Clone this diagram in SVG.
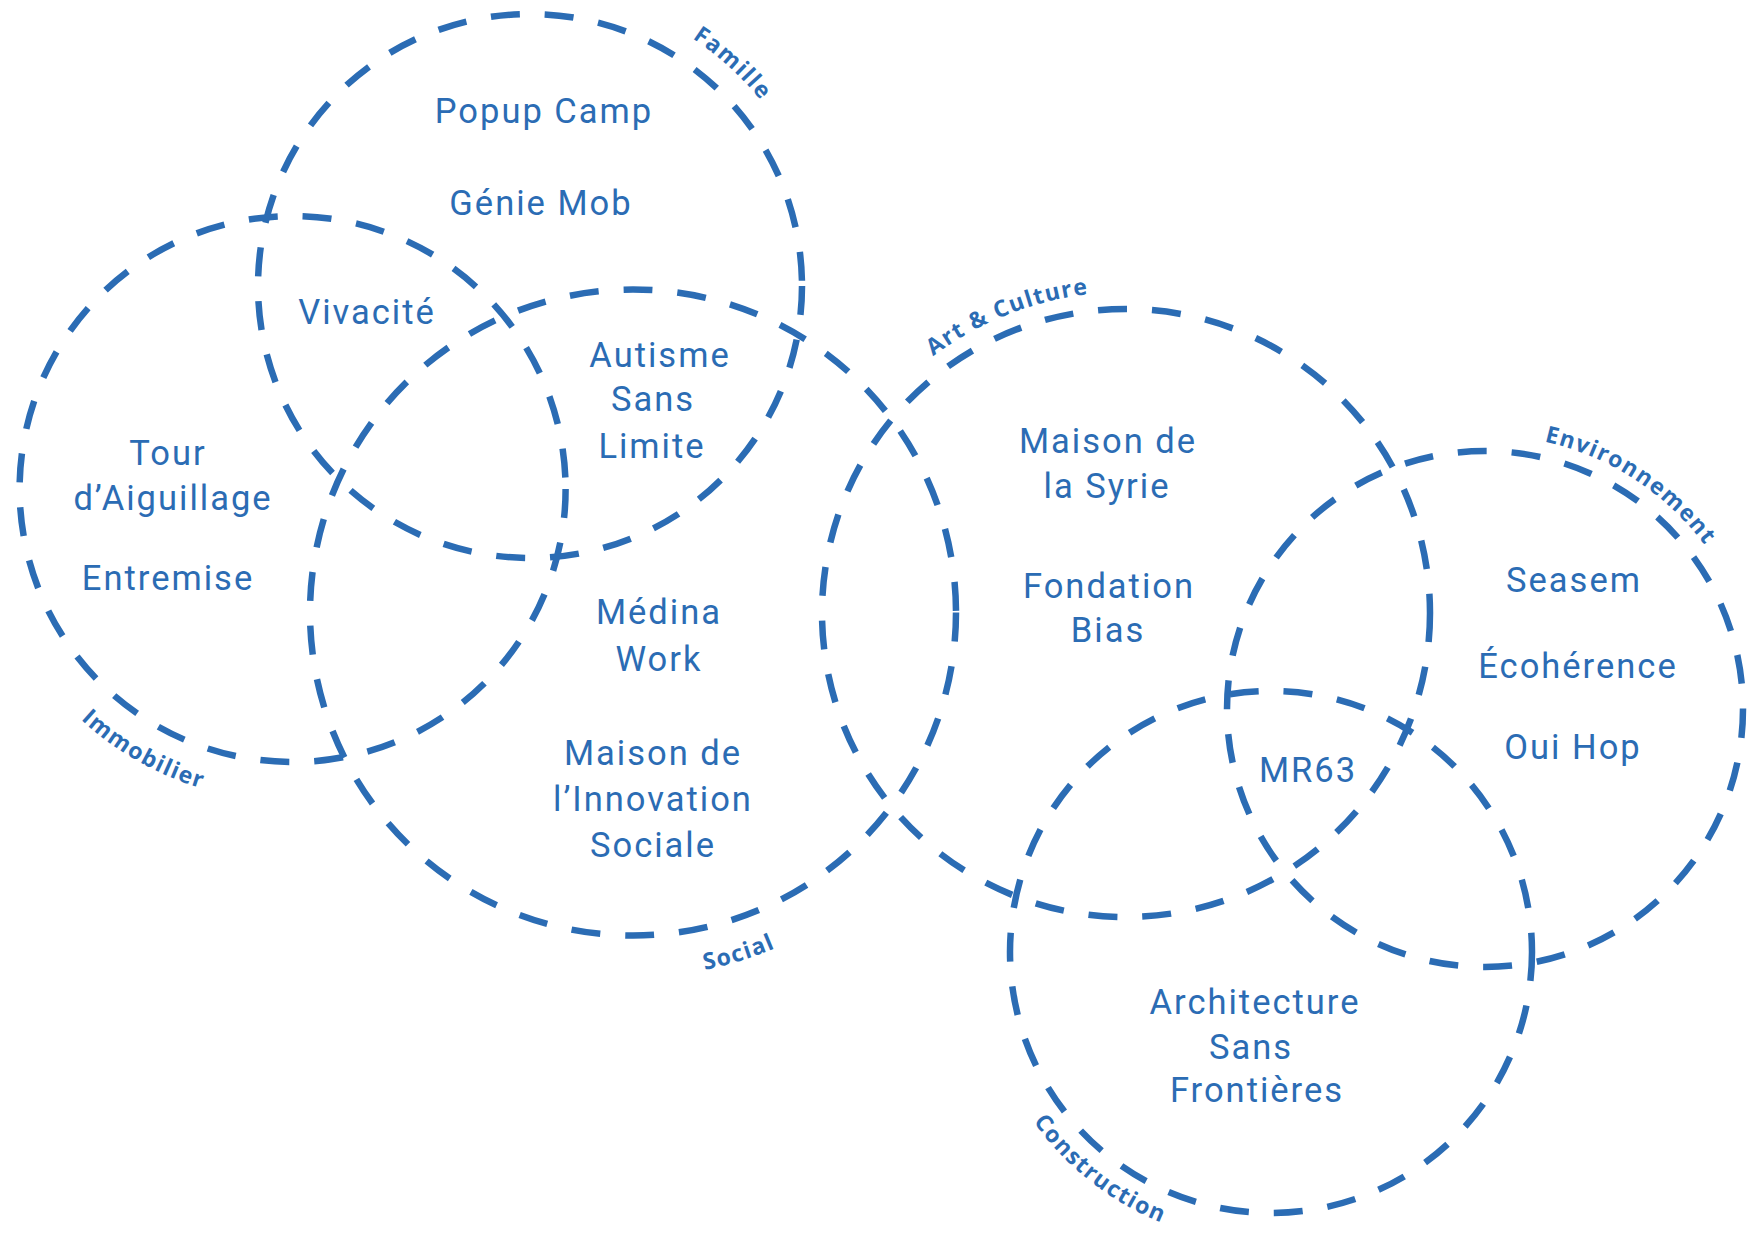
<svg xmlns="http://www.w3.org/2000/svg" width="1751" height="1235" viewBox="0 0 1751 1235">
<style>
.ring{fill:none;stroke:#2b6cb4;stroke-width:6.5;stroke-dasharray:29 25}
.item{font-family:Roboto,"Liberation Sans",sans-serif;font-size:34.5px;fill:#2b6cb4;text-anchor:middle;letter-spacing:2px}
.lab{font-family:"Open Sans","Liberation Sans",sans-serif;font-weight:700;font-size:23px;fill:#2b6cb4;letter-spacing:1.4px}
</style>
<defs>
<path id="pFam" d="M490.3,-7.3 A296,296 0 0 1 825.8,297.9"/>
<path id="pArt" d="M821.1,512.5 A321,321 0 0 1 1277.9,330.2"/>
<path id="pEnv" d="M1404.9,447 A274,274 0 0 1 1756.9,675.6"/>
<path id="pImm" d="M-15.4,545 A313,313 0 0 0 401.2,782.6"/>
<path id="pSoc" d="M435.8,919.1 A364.6,364.6 0 0 0 969.2,753.5"/>
<path id="pCon" d="M979.1,961.2 A292,292 0 0 0 1330.7,1237.8"/>
</defs>
<rect width="1751" height="1235" fill="#ffffff"/>
<g id="connectors"/>
<g id="famille">
<circle class="ring" cx="530" cy="286" r="272"/>
<text class="lab"><textPath href="#pFam" startOffset="50%" text-anchor="middle">Famille</textPath></text>
</g>
<g id="immobilier">
<circle class="ring" cx="292.6" cy="489" r="273"/>
<text class="lab"><textPath href="#pImm" startOffset="50%" text-anchor="middle">Immobilier</textPath></text>
</g>
<g id="social">
<circle class="ring" cx="633" cy="612.5" r="323"/>
<text class="lab"><textPath href="#pSoc" startOffset="50%" text-anchor="middle">Social</textPath></text>
</g>
<g id="art-culture">
<circle class="ring" cx="1126" cy="613" r="304"/>
<text class="lab"><textPath href="#pArt" startOffset="50%" text-anchor="middle">Art &amp; Culture</textPath></text>
</g>
<g id="environnement">
<circle class="ring" cx="1485" cy="709" r="258"/>
<text class="lab"><textPath href="#pEnv" startOffset="50%" text-anchor="middle">Environnement</textPath></text>
</g>
<g id="construction">
<circle class="ring" cx="1271" cy="952" r="261"/>
<text class="lab"><textPath href="#pCon" startOffset="50%" text-anchor="middle">Construction</textPath></text>
</g>
<g id="items">
<g id="popup-camp"><text class="item" x="544" y="123">Popup Camp</text></g>
<g id="genie-mob"><text class="item" x="541" y="215">Génie Mob</text></g>
<g id="vivacite"><text class="item" x="367" y="324">Vivacité</text></g>
<g id="autisme"><text class="item" y="367"><tspan x="660">Autisme</tspan><tspan x="653" y="411">Sans</tspan><tspan x="652" y="458">Limite</tspan></text></g>
<g id="tour"><text class="item" y="465"><tspan x="168">Tour</tspan><tspan x="173" y="510">d’Aiguillage</tspan></text></g>
<g id="entremise"><text class="item" x="168" y="590">Entremise</text></g>
<g id="medina"><text class="item" y="624"><tspan x="659">Médina</tspan><tspan x="659" y="671">Work</tspan></text></g>
<g id="mis"><text class="item" y="765"><tspan x="653">Maison de</tspan><tspan x="653" y="811">l’Innovation</tspan><tspan x="653" y="857">Sociale</tspan></text></g>
<g id="syrie"><text class="item" y="453"><tspan x="1108">Maison de</tspan><tspan x="1107" y="498">la Syrie</tspan></text></g>
<g id="bias"><text class="item" y="598"><tspan x="1109">Fondation</tspan><tspan x="1108" y="642">Bias</tspan></text></g>
<g id="seasem"><text class="item" x="1574" y="592">Seasem</text></g>
<g id="ecoherence"><text class="item" x="1578" y="678">Écohérence</text></g>
<g id="ouihop"><text class="item" x="1573" y="759">Oui Hop</text></g>
<g id="mr63"><text class="item" x="1308" y="782">MR63</text></g>
<g id="asf"><text class="item" y="1014"><tspan x="1255">Architecture</tspan><tspan x="1251" y="1059">Sans</tspan><tspan x="1257" y="1102">Frontières</tspan></text></g>
</g>
</svg>
